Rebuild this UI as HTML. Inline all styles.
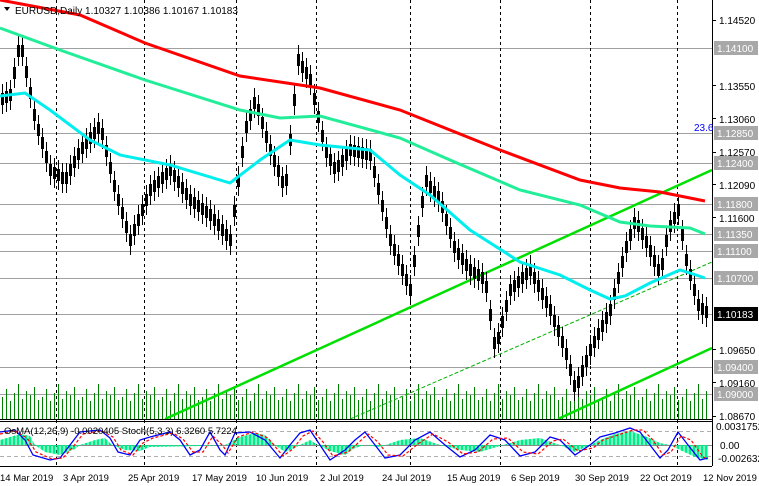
<!DOCTYPE html>
<html><head><meta charset="utf-8"><style>
html,body{margin:0;padding:0;background:#fff;}
svg{display:block;font-family:"Liberation Sans",sans-serif;}
</style></head><body>
<svg width="759" height="486" xmlns="http://www.w3.org/2000/svg" xmlns:xlink="http://www.w3.org/1999/xlink">
<defs>
<pattern id="vp" x="0" y="374" width="40" height="45" patternUnits="userSpaceOnUse">
<path d="M2.5 23V45M6.5 15V45M10.5 27V45M14.5 19V45M18.5 10V45M22.5 25V45M26.5 17V45M30.5 21V45M34.5 13V45M38.5 26V45" stroke="#008000" stroke-width="1"/>
</pattern>
<pattern id="hp" x="0" y="0" width="4" height="10" patternUnits="userSpaceOnUse">
<rect x="0.5" y="0" width="3" height="10" fill="#00ee88"/>
</pattern>
<path id="ck" d="M2.5 90v18M6.5 88v18M10.5 86v18M14.5 64v18M18.5 42v18M22.5 42v18M26.5 63v18M30.5 84v18M34.5 106v18M38.5 121v18M42.5 134v18M46.5 148v18M50.5 161v18M54.5 164v18M58.5 166v18M62.5 169v18M66.5 169v18M70.5 161v18M74.5 153v18M78.5 145v18M82.5 139v18M86.5 134v18M90.5 129v18M94.5 124v18M98.5 119v18M102.5 125v18M106.5 142v18M110.5 159v18M114.5 177v18M118.5 191v18M122.5 204v18M126.5 218v18M130.5 231v18M134.5 221v18M138.5 211v18M142.5 201v18M146.5 191v18M150.5 181v18M154.5 177v18M158.5 173v18M162.5 169v18M166.5 165v18M170.5 161v18M174.5 167v18M178.5 173v18M182.5 179v18M186.5 185v18M190.5 191v18M194.5 194v18M198.5 197v18M202.5 200v18M206.5 203v18M210.5 206v18M214.5 211v18M218.5 216v18M222.5 221v18M226.5 226v18M230.5 231v18M234.5 202v18M238.5 172v18M242.5 143v18M246.5 118v18M250.5 106v18M254.5 94v18M258.5 101v18M262.5 114v18M266.5 128v18M270.5 141v18M274.5 152v18M278.5 162v18M282.5 173v18M286.5 171v18M290.5 131v18M294.5 91v18M298.5 51v18M302.5 58v18M306.5 64v18M310.5 71v18M314.5 90v18M318.5 108v18M322.5 127v18M326.5 143v18M330.5 151v18M334.5 159v18M338.5 157v18M342.5 152v18M346.5 146v18M350.5 141v18M354.5 142v18M358.5 143v18M362.5 144v18M366.5 145v18M370.5 146v18M374.5 163v18M378.5 180v18M382.5 197v18M386.5 214v18M390.5 231v18M394.5 241v18M398.5 251v18M402.5 261v18M406.5 271v18M410.5 281v18M414.5 252v18M418.5 222v18M422.5 193v18M426.5 172v18M430.5 178v18M434.5 183v18M438.5 188v18M442.5 198v18M446.5 211v18M450.5 224v18M454.5 238v18M458.5 245v18M462.5 250v18M466.5 256v18M470.5 261v18M474.5 264v18M478.5 266v18M482.5 269v18M486.5 278v18M490.5 306v18M494.5 334v18M498.5 329v18M502.5 313v18M506.5 297v18M510.5 281v18M514.5 277v18M518.5 273v18M522.5 269v18M526.5 265v18M530.5 261v18M534.5 269v18M538.5 277v18M542.5 285v18M546.5 293v18M550.5 301v18M554.5 312v18M558.5 322v18M562.5 333v18M566.5 345v18M570.5 361v18M574.5 377v18M578.5 373v18M582.5 362v18M586.5 352v18M590.5 341v18M594.5 333v18M598.5 325v18M602.5 317v18M606.5 309v18M610.5 301v18M614.5 285v18M618.5 269v18M622.5 253v18M626.5 238v18M630.5 226v18M634.5 214v18M638.5 217v18M642.5 225v18M646.5 233v18M650.5 242v18M654.5 252v18M658.5 261v18M662.5 255v18M666.5 232v18M670.5 217v18M674.5 209v18M678.5 201v18M682.5 226v18M686.5 251v18M690.5 266v18M694.5 281v18M698.5 296v18M702.5 300v18M706.5 303v18"/>
</defs>
<rect width="759" height="486" fill="#fff"/>
<!-- grid -->
<g stroke="#a0a0a0">
<line x1="0" x2="712" y1="48.5" y2="48.5"/>
<line x1="0" x2="712" y1="133.5" y2="133.5"/>
<line x1="0" x2="712" y1="163.5" y2="163.5"/>
<line x1="0" x2="712" y1="204.5" y2="204.5"/>
<line x1="0" x2="712" y1="234.5" y2="234.5"/>
<line x1="0" x2="712" y1="251.5" y2="251.5"/>
<line x1="0" x2="712" y1="278.5" y2="278.5"/>
<line x1="0" x2="712" y1="314.5" y2="314.5"/>
<line x1="0" x2="712" y1="367.5" y2="367.5"/>
<line x1="0" x2="712" y1="394.5" y2="394.5"/>
</g>
<g stroke="#000" stroke-dasharray="3,3">
<line x1="56.5" x2="56.5" y1="0" y2="466"/>
<line x1="144.5" x2="144.5" y1="0" y2="466"/>
<line x1="236.5" x2="236.5" y1="0" y2="466"/>
<line x1="316.5" x2="316.5" y1="0" y2="466"/>
<line x1="410.5" x2="410.5" y1="0" y2="466"/>
<line x1="500.5" x2="500.5" y1="0" y2="466"/>
<line x1="590.5" x2="590.5" y1="0" y2="466"/>
<line x1="677.5" x2="677.5" y1="0" y2="466"/>
</g>
<!-- volume -->
<rect x="0" y="374" width="708" height="45" fill="url(#vp)"/>
<!-- trend lines -->
<line x1="165" y1="419" x2="712" y2="170" stroke="#00e000" stroke-width="2.5"/>
<line x1="558" y1="419" x2="712" y2="348" stroke="#00e000" stroke-width="2.5"/>
<line x1="350" y1="419" x2="712" y2="262" stroke="#00b000" stroke-width="1" stroke-dasharray="4,2"/>
<!-- candles -->
<g fill="none" stroke="#000" stroke-width="1">
<use href="#ck" xlink:href="#ck" transform="translate(0,-6)"/>
<use href="#ck" xlink:href="#ck" transform="translate(0,6)"/>
</g>
<use href="#ck" xlink:href="#ck" fill="none" stroke="#000" stroke-width="3" stroke-dasharray="0 3 12 30"/>
<!-- MAs -->
<polyline points="0,0 80,15 145,43 240,76 320,88 400,110 500,150 580,180 620,188 660,192 705,201" fill="none" stroke="#ff0000" stroke-width="3"/>
<polyline points="0,28 60,50 145,80 240,110 280,118 320,116 400,138 450,160 520,190 580,205 620,222 650,226 690,228 705,234" fill="none" stroke="#22ee99" stroke-width="3"/>
<polyline points="0,96 25,93 50,110 90,140 120,155 170,165 230,183 260,160 290,140 320,145 370,150 400,175 430,195 470,230 520,262 560,275 590,290 610,299 625,296 650,283 680,270 690,273 705,278" fill="none" stroke="#00eeee" stroke-width="3"/>
<!-- oscillator -->
<line x1="0" x2="712" y1="431.5" y2="431.5" stroke="#b0b0b0" stroke-dasharray="4,3"/>
<line x1="0" x2="712" y1="456.5" y2="456.5" stroke="#b0b0b0" stroke-dasharray="4,3"/>
<line x1="0" x2="712" y1="445.5" y2="445.5" stroke="#888"/>
<polygon points="0,445 0,440 10,437 20,434 30,436 35,445 45,452 60,455 75,449 80,445 95,440 105,438 112,445 125,450 140,451 150,447 200,446 225,445 240,437 255,433 265,435 275,445 285,452 295,448 300,445 310,440 318,445 330,451 345,455 355,448 365,445 380,447 400,440 420,438 440,445 460,450 480,452 500,446 520,440 540,438 560,445 575,452 590,445 600,440 615,434 630,431 645,436 660,443 670,445 680,450 695,457 708,460 708,445" fill="url(#hp)"/>
<polyline points="0,432 15,430 25,440 33,455 50,460 60,458 70,445 80,432 100,430 110,438 118,452 130,455 140,440 150,437 170,432 180,440 190,455 200,450 210,432 220,450 225,455 235,433 250,432 265,440 280,458 290,445 300,433 310,430 320,445 330,460 345,450 355,440 365,432 375,445 385,458 400,455 415,440 430,432 445,445 460,457 475,450 490,435 505,440 520,456 535,452 550,437 560,440 575,455 590,445 600,437 615,433 630,428 640,432 650,445 660,458 668,450 678,432 688,445 700,460 708,458" fill="none" stroke="#0000ff" stroke-width="1.3"/>
<polyline points="0,434 15,431 27,438 36,452 52,459 63,458 73,447 83,434 102,431 113,437 121,450 133,455 143,443 153,438 173,433 183,439 193,452 203,452 213,436 223,446 228,453 238,437 253,432 268,438 283,456 293,449 303,436 313,431 323,442 333,456 348,452 358,443 368,434 378,442 388,455 403,456 418,444 433,434 448,442 463,454 478,452 493,439 508,438 523,452 538,454 553,441 563,439 578,451 593,448 603,440 618,435 633,430 643,430 653,440 663,455 671,452 681,436 691,440 703,457 708,459" fill="none" stroke="#ff0000" stroke-width="1.2" stroke-dasharray="3,2"/>
<!-- frame -->
<line x1="712.5" y1="0" x2="712.5" y2="466" stroke="#000"/>
<line x1="0" y1="419.5" x2="712" y2="419.5" stroke="#000"/>
<line x1="0" y1="421.5" x2="712" y2="421.5" stroke="#000"/>
<line x1="0" y1="466.5" x2="712" y2="466.5" stroke="#000"/>
<!-- axis -->
<g font-size="10" fill="#000" stroke="none">
<text x="719" y="24">1.14520</text>
<text x="719" y="90">1.13550</text>
<text x="719" y="123">1.13060</text>
<text x="719" y="156">1.12570</text>
<text x="719" y="189">1.12090</text>
<text x="719" y="222">1.11600</text>
<text x="719" y="354">1.09650</text>
<text x="719" y="387">1.09160</text>
<text x="719" y="420">1.08670</text>
</g>
<g stroke="#000">
<line x1="712" x2="716" y1="20.5" y2="20.5"/><line x1="712" x2="716" y1="85.5" y2="85.5"/><line x1="712" x2="716" y1="118.5" y2="118.5"/><line x1="712" x2="716" y1="152.5" y2="152.5"/><line x1="712" x2="716" y1="184.5" y2="184.5"/><line x1="712" x2="716" y1="217.5" y2="217.5"/><line x1="712" x2="716" y1="349.5" y2="349.5"/><line x1="712" x2="716" y1="382.5" y2="382.5"/><line x1="712" x2="716" y1="416.5" y2="416.5"/>
</g>
<g fill="#a8a8a8">
<rect x="714" y="41" width="44" height="14"/><rect x="714" y="126" width="44" height="14"/><rect x="714" y="156" width="44" height="14"/><rect x="714" y="197" width="44" height="14"/><rect x="714" y="227" width="44" height="14"/><rect x="714" y="244" width="44" height="14"/><rect x="714" y="271" width="44" height="14"/><rect x="714" y="360" width="44" height="14"/><rect x="714" y="387" width="44" height="14"/>
</g>
<rect x="714" y="307" width="44" height="14" fill="#000"/>
<g font-size="10" fill="#fff">
<text x="717" y="52">1.14100</text><text x="717" y="137">1.12850</text><text x="717" y="167">1.12400</text><text x="717" y="208">1.11800</text><text x="717" y="238">1.11350</text><text x="717" y="255">1.11100</text><text x="717" y="282">1.10700</text><text x="717" y="318">1.10183</text><text x="717" y="371">1.09400</text><text x="717" y="398">1.09000</text>
</g>
<text x="694" y="131" font-size="10" fill="#0000ff">23.6</text>
<g font-size="10" fill="#000">
<text x="716" y="430">0.0031752</text>
<text x="720" y="449">0.00</text>
<text x="718" y="462">-0.002632</text>
</g>
<polygon points="4,7 10,7 7,11" fill="#000"/>
<text x="15" y="14" font-size="10">EURUSD,Daily  1.10327 1.10386 1.10167 1.10183</text>
<text x="4" y="434" font-size="9.5" fill="#000">OsMA(12,26,9) -0.0020405  Stoch(5,3,3) 6.3260 5.7224</text>
<g font-size="9.5" fill="#000">
<text x="0" y="481">14 Mar 2019</text>
<text x="63" y="481">3 Apr 2019</text>
<text x="128" y="481">25 Apr 2019</text>
<text x="192" y="481">17 May 2019</text>
<text x="256" y="481">10 Jun 2019</text>
<text x="320" y="481">2 Jul 2019</text>
<text x="382" y="481">24 Jul 2019</text>
<text x="447" y="481">15 Aug 2019</text>
<text x="511" y="481">6 Sep 2019</text>
<text x="575" y="481">30 Sep 2019</text>
<text x="640" y="481">22 Oct 2019</text>
<text x="703" y="481">12 Nov 2019</text>
</g>
</svg>
</body></html>
